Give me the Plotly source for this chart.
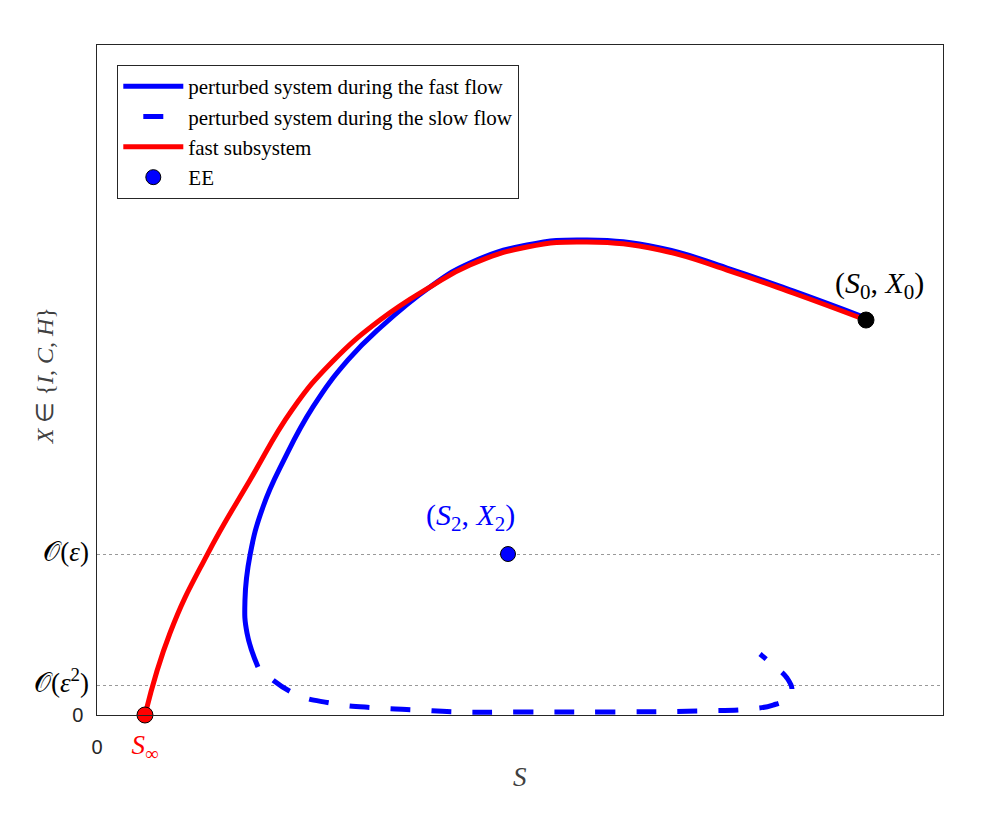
import plotly.graph_objects as go

# --- curve data (S on x, X on y) ---
# fast subsystem (red), from S_inf up to (S0, X0)
fast_sub_S = [0.567, 0.863, 1.300, 1.809, 2.305, 2.778, 3.345, 3.936, 4.409, 5.083,
              5.792, 6.655, 7.447, 8.227, 9.090]
fast_sub_X = [0.000, 0.979, 1.910, 2.806, 3.642, 4.215, 4.716, 5.110, 5.373, 5.588,
              5.648, 5.552, 5.313, 5.039, 4.716]

# perturbed system, fast flow (blue solid), from (S0, X0) downwards
pert_fast_S = [9.090, 8.227, 7.447, 6.655, 5.792, 5.083, 4.409, 3.936, 3.357, 2.967,
               2.553, 2.210, 1.962, 1.809, 1.749, 1.773, 1.903]
pert_fast_X = [4.740, 5.063, 5.337, 5.576, 5.672, 5.612, 5.397, 5.110, 4.633, 4.239,
               3.678, 3.045, 2.484, 1.910, 1.373, 0.979, 0.573]

# perturbed system, slow flow (blue dashed)
pert_slow_S = [1.903, 2.317, 2.754, 3.310, 3.783, 4.267, 5.000, 5.946, 7.128,
               7.719, 7.991, 8.168, 8.215, 8.156, 7.991, 7.837]
pert_slow_X = [0.573, 0.263, 0.143, 0.084, 0.060, 0.036, 0.036, 0.036, 0.048,
               0.072, 0.119, 0.203, 0.299, 0.442, 0.597, 0.728]

# special points
ee_S, ee_X = [4.858], [1.922]
start_S, start_X = [9.090], [4.716]
sinf_S, sinf_X = [0.567], [0.0]

# ticks
big = "font-family:Liberation Serif;font-size:27px"
x_tickvals = [0, 0.567]
x_ticktext = ["0", f"<span style='color:#ff0000;{big}'><i>S</i><sub>∞</sub></span>"]
y_tickvals = [0, 0.358, 1.922]
y_ticktext = ["0\u00a0",
              f"<span style='color:#000000;{big}'>𝒪(<i>ε</i><sup>2</sup>)</span>",
              f"<span style='color:#000000;{big}'>𝒪(<i>ε</i>)</span>"]

serif = "Liberation Serif"
axis_col = "#262626"

fig = go.Figure()
fig.add_trace(go.Scatter(x=pert_fast_S, y=pert_fast_X, mode="lines",
                         line=dict(color="#0000ff", width=5, shape="spline", smoothing=1.3),
                         name="perturbed system during the fast flow"))
fig.add_trace(go.Scatter(x=pert_slow_S, y=pert_slow_X, mode="lines",
                         line=dict(color="#0000ff", width=5, dash="0px,20px,20px,1px", shape="spline", smoothing=1.3),
                         name="perturbed system during the slow flow"))
fig.add_trace(go.Scatter(x=fast_sub_S, y=fast_sub_X, mode="lines",
                         line=dict(color="#ff0000", width=5, shape="spline", smoothing=1.3),
                         name="fast subsystem"))
fig.add_trace(go.Scatter(x=ee_S, y=ee_X, mode="markers", name="EE",
                         marker=dict(color="#0000ff", size=15, line=dict(color="black", width=1))))
fig.add_trace(go.Scatter(x=start_S, y=start_X, mode="markers", showlegend=False,
                         marker=dict(color="black", size=16, line=dict(color="black", width=1))))
fig.add_trace(go.Scatter(x=sinf_S, y=sinf_X, mode="markers", showlegend=False, cliponaxis=False,
                         marker=dict(color="#ff0000", size=16, line=dict(color="black", width=1))))

fig.add_annotation(x=9.255, y=5.134, xref="x", yref="y", showarrow=False,
                   text="(<i>S</i><sub>0</sub>, <i>X</i><sub>0</sub>)",
                   font=dict(family=serif, size=30, color="black"))
fig.add_annotation(x=4.409, y=2.364, xref="x", yref="y", showarrow=False,
                   text="(<i>S</i><sub>2</sub>, <i>X</i><sub>2</sub>)",
                   font=dict(family=serif, size=30, color="#0000ff"))
fig.add_annotation(x=-0.0615, y=0.507, xref="paper", yref="paper", showarrow=False, textangle=-90,
                   xanchor="center", yanchor="middle",
                   text="<i>X</i> ∈ {<i>I</i>, <i>C</i>, <i>H</i>}",
                   font=dict(family=serif, size=24, color="#404040"))
fig.add_annotation(x=0.5, y=-0.0925, xref="paper", yref="paper", showarrow=False,
                   xanchor="center", yanchor="middle",
                   text="<i>S</i>", font=dict(family=serif, size=27, color="#404040"))

fig.update_xaxes(range=[0, 10], tickvals=x_tickvals, ticktext=x_ticktext, showgrid=False, zeroline=False,
                 showline=True, linecolor=axis_col, linewidth=1, mirror=True, ticks="",
                 tickfont=dict(family="Liberation Sans", size=20, color=axis_col), ticklabelstandoff=14)
fig.update_yaxes(range=[0, 8], tickvals=y_tickvals, ticktext=y_ticktext, showgrid=True, gridcolor="#999999",
                 griddash="dot", gridwidth=1, zeroline=False,
                 showline=True, linecolor=axis_col, linewidth=1, mirror=True, ticks="",
                 tickfont=dict(family="Liberation Sans", size=20, color=axis_col), ticklabelstandoff=3)

# page body has an 8px margin, so the figure is shrunk by that amount
fig.update_layout(
    width=988, height=812,
    margin=dict(l=89, r=53, t=37, b=105),
    plot_bgcolor="white", paper_bgcolor="white",
    legend=dict(x=0.024, y=0.970, xanchor="left", yanchor="top", bgcolor="white",
                bordercolor=axis_col, borderwidth=1, itemwidth=60,
                font=dict(family=serif, size=21, color="black")),
)

fig.write_html("out.html")
